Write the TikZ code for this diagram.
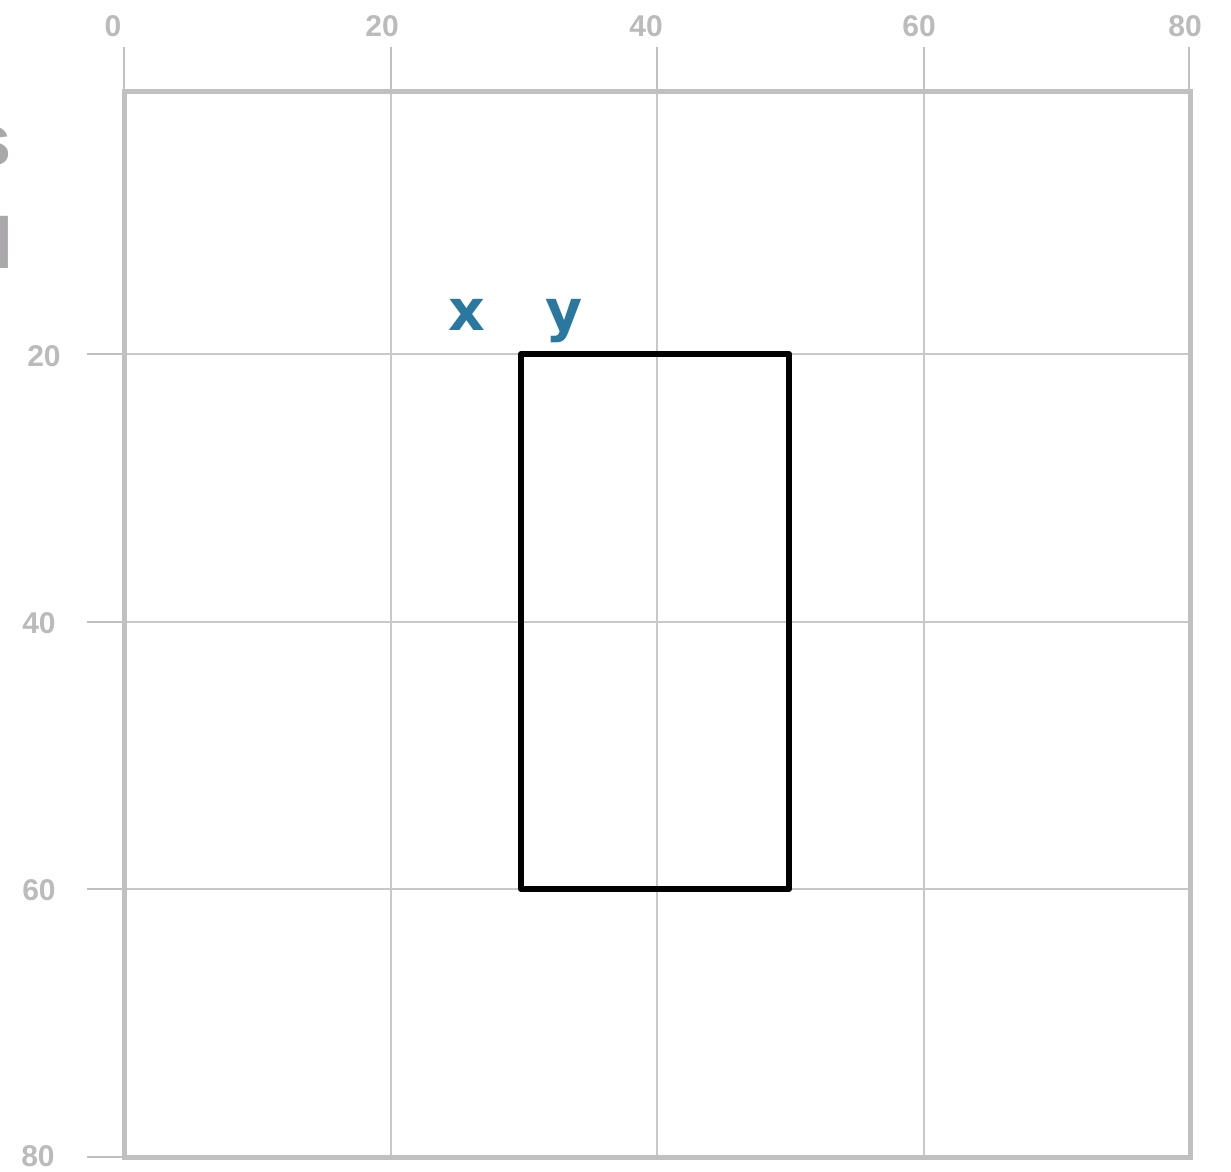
\documentclass[tikz,border=0pt]{standalone}
\usepackage{fontspec}
\newfontfamily\tickfont{Liberation Sans}[BoldFont=* Bold]
\newfontfamily\lblfont{DejaVu Sans}[BoldFont=* Bold]
\definecolor{gridgrey}{HTML}{C8C8C8}
\definecolor{framegrey}{HTML}{C0C0C0}
\definecolor{ticktext}{HTML}{BBBBBB}
\definecolor{cutgrey}{HTML}{ABA8AB}
\definecolor{lblblue}{HTML}{2A77A0}
\tikzset{
  gridline/.style={draw=gridgrey, line width=2pt},
  frameline/.style={draw=framegrey, line width=5pt},
  tickline/.style={draw=framegrey, line width=2pt},
  ticklabel/.style={text=ticktext, font=\tickfont\bfseries\fontsize{30}{31}\selectfont, inner sep=0pt},
  axislabel/.style={text=lblblue, font=\lblfont\bfseries\fontsize{57}{60}\selectfont, inner sep=0pt, anchor=base},
  cuttext/.style={text=cutgrey, font=\tickfont\bfseries\fontsize{72}{74}\selectfont, inner sep=0pt},
  boxline/.style={draw=black, line width=6pt, line join=round}
}
\begin{document}
\begin{tikzpicture}[x=1pt, y=-1pt]
\useasboundingbox (0,0) rectangle (1231,1172);
% cut-off text at the left edge
\node[cuttext, anchor=base east] (cuts) at (12,165) {s};
\node[cuttext, anchor=base east] (cutl) at (14,268) {l};
% grid
\foreach \gx in {391,657,924} \draw[gridline] (\gx,91) -- (\gx,1157);
\foreach \gy in {354,622,889} \draw[gridline] (124,\gy) -- (1190,\gy);
% top ticks
\foreach \tx in {124,391,657,924,1189} \draw[tickline] (\tx,47) -- (\tx,91);
% left ticks
\foreach \ty in {354,622,889,1157} \draw[tickline] (87,\ty) -- (124,\ty);
% frame
\draw[frameline] (124,91) rectangle (1190,1157);
% tick labels
\node[ticklabel] (t0) at (113,26) {0};
\node[ticklabel] (t20) at (382,26) {20};
\node[ticklabel] (t40) at (646,26) {40};
\node[ticklabel] (t60) at (919,26) {60};
\node[ticklabel] (t80) at (1185,26) {80};
\node[ticklabel] (l20) at (44,356) {20};
\node[ticklabel] (l40) at (39,623) {40};
\node[ticklabel] (l60) at (39,890) {60};
\node[ticklabel] (l80) at (38,1156) {80};
% rectangle
\draw[boxline] (521,354) rectangle (789,889);
% x y labels
\node[axislabel] (xl) at (467,330) {x};
\node[axislabel] (yl) at (564,330) {y};
\end{tikzpicture}
\end{document}
